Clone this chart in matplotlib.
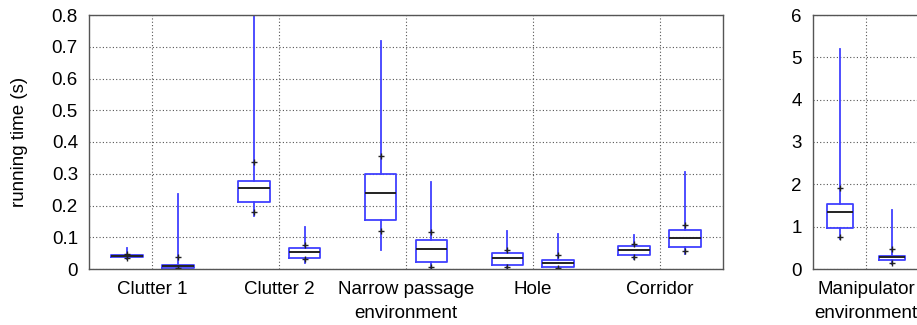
import matplotlib.pyplot as plt

plt.rcParams['font.family'] = ['Liberation Sans', 'DejaVu Sans']

# environments of the left panel, two planners per environment
categories = ["Clutter 1", "Clutter 2", "Narrow passage", "Hole", "Corridor"]

# per box: whisker low, q1, median, q3, whisker high, lower '+' mark, upper '+' mark
# first planner (left box of each pair)
a_lo = [0.030, 0.167, 0.060, 0.004, 0.031]
a_q1 = [0.037, 0.211, 0.154, 0.013, 0.044]
a_med = [0.042, 0.256, 0.238, 0.034, 0.060]
a_q3 = [0.045, 0.277, 0.298, 0.050, 0.072]
a_hi = [0.066, 0.900, 0.718, 0.119, 0.106]
a_p_lo = [0.035, 0.178, 0.121, 0.007, 0.039]
a_p_hi = [0.047, 0.336, 0.357, 0.060, 0.078]

# second planner (right box of each pair)
b_lo = [0.002, 0.018, 0.003, 0.002, 0.047]
b_q1 = [0.004, 0.036, 0.021, 0.005, 0.069]
b_med = [0.008, 0.053, 0.062, 0.020, 0.099]
b_q3 = [0.012, 0.065, 0.090, 0.029, 0.122]
b_hi = [0.235, 0.133, 0.275, 0.109, 0.306]
b_p_lo = [0.003, 0.031, 0.007, 0.003, 0.058]
b_p_hi = [0.037, 0.076, 0.116, 0.043, 0.139]

# right panel
manip_categories = ["Manipulator"]
m_a = dict(lo=0.70, q1=0.98, med=1.35, q3=1.535, hi=5.20, p_lo=0.756, p_hi=1.92)
m_b = dict(lo=0.12, q1=0.205, med=0.283, q3=0.315, hi=1.39, p_lo=0.134, p_hi=0.47)

blue = "#4040ff"
FS = 13.5


def draw_box(ax, pos, lo, q1, med, q3, hi, p_lo, p_hi, width=0.25):
    stats = [dict(whislo=lo, q1=q1, med=med, q3=q3, whishi=hi, fliers=[])]
    ax.bxp(stats, positions=[pos], widths=width, showcaps=False,
           boxprops=dict(color=blue, linewidth=1.3),
           whiskerprops=dict(color=blue, linewidth=1.3),
           medianprops=dict(color="#222222", linewidth=1.4),
           manage_ticks=False)
    ax.plot([pos, pos], [p_lo, p_hi], linestyle="none", marker="+",
            color="#222222", markersize=5, markeredgewidth=1.0)


def style_axes(ax):
    ax.grid(True, linestyle=(0, (1, 2)), color="#555555", linewidth=0.8)
    ax.set_axisbelow(True)
    for sp in ax.spines.values():
        sp.set_color("#555555")
        sp.set_linewidth(1.0)
    ax.tick_params(axis="x", length=0, labelsize=FS, pad=9)
    ax.tick_params(axis="y", length=0, labelsize=FS, pad=8)


fig = plt.figure(figsize=(9.17, 3.25), dpi=100)
W, H = 917, 325

ax = fig.add_axes([89 / W, (325 - 269) / H, (723 - 89) / W, 254 / H])
for i in range(len(categories)):
    draw_box(ax, i + 1 - 0.2, a_lo[i], a_q1[i], a_med[i], a_q3[i], a_hi[i], a_p_lo[i], a_p_hi[i])
    draw_box(ax, i + 1 + 0.2, b_lo[i], b_q1[i], b_med[i], b_q3[i], b_hi[i], b_p_lo[i], b_p_hi[i])
ax.set_xlim(0.5, len(categories) + 0.5)
ax.set_ylim(0, 0.8)
ax.set_xticks(range(1, len(categories) + 1))
ax.set_xticklabels(categories)
ax.set_yticks([0, 0.1, 0.2, 0.3, 0.4, 0.5, 0.6, 0.7, 0.8])
ax.set_yticklabels(["0", "0.1", "0.2", "0.3", "0.4", "0.5", "0.6", "0.7", "0.8"])
ax.set_ylabel("running time (s)", fontsize=FS, labelpad=17)
ax.set_xlabel("environment", fontsize=FS, labelpad=5)
style_axes(ax)

ax2 = fig.add_axes([813 / W, (325 - 269) / H, 106 / W, 254 / H])
draw_box(ax2, 1 - 0.245, **m_a)
draw_box(ax2, 1 + 0.245, **m_b)
ax2.set_xlim(0.5, 1.5)
ax2.set_ylim(0, 6)
ax2.set_xticks([1])
ax2.set_xticklabels(manip_categories)
ax2.set_yticks(range(0, 7))
ax2.set_xlabel("environment", fontsize=FS, labelpad=5)
style_axes(ax2)

fig.savefig("out.png", dpi=100)
